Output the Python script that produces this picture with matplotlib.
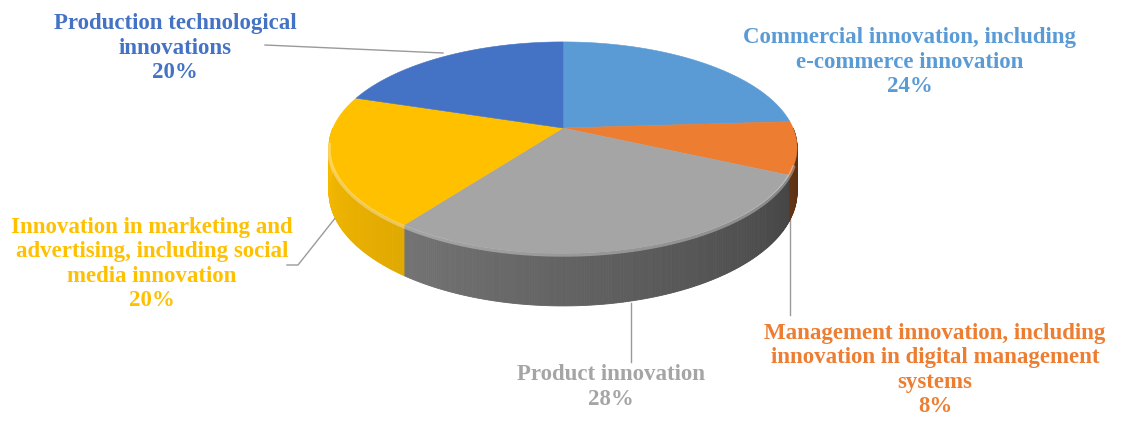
import matplotlib
matplotlib.use('Agg')
import matplotlib.pyplot as plt
from matplotlib.patches import Polygon
import numpy as np

# slice data, clockwise from 12 o'clock
categories = ['Commercial innovation, including\ne-commerce innovation',
              'Management innovation, including\ninnovation in digital management\nsystems',
              'Product innovation',
              'Innovation in marketing and\nadvertising, including social\nmedia innovation',
              'Production technological\ninnovations']
shares = [24, 8, 28, 20, 20]
top_colors = ['#5B9BD5', '#ED7D31', '#A5A5A5', '#FFC000', '#4472C4']

# pie geometry in pixels (tilted disc with a bit of perspective)
CX, CY = 563, 128
A, H = 230, 102
K = 0.185
T = 43

# label anchors and leader lines
label_pos = [(910, 62), (935, 370), (611, 387), (152, 264), (175, 48)]
leaders = [None,
           [(790, 212), (790, 315)],
           [(631, 303), (631, 362)],
           [(287, 265), (298, 265), (340, 212)],
           [(265, 45), (443, 53)]]


def project(theta, drop=0.0):
    t = np.radians(theta)
    u, v = np.sin(t), np.cos(t)
    s = 1.0 / (1.0 + K * v)
    return CX + A * u * s, CY - H * v * s + drop * s


def shade(hex_color, f):
    c = np.array(matplotlib.colors.to_rgb(hex_color))
    if f < 1:
        return tuple(c * f)
    return tuple(c + (1 - c) * (f - 1))


fig = plt.figure(figsize=(11.22, 4.24), dpi=100)
ax = fig.add_axes([0, 0, 1, 1])
ax.set_xlim(0, 1122)
ax.set_ylim(424, 0)
ax.axis('off')

bounds = np.concatenate([[0], np.cumsum(shares)]) * 3.6

# side walls, built from thin strips so they can be shaded
for i in range(len(shares)):
    a0, a1 = max(bounds[i], 90), min(bounds[i + 1], 270)
    if a1 <= a0:
        continue
    steps = np.linspace(a0, a1, max(int((a1 - a0) * 2), 2))
    for s0, s1 in zip(steps[:-1], steps[1:]):
        mid = (s0 + s1) / 2
        # lighter toward the left, darker toward the right
        f = 0.35 + 0.5 * (mid - 90) / 180
        if top_colors[i] == '#FFC000':
            f = 0.88 + 0.1 * (mid - 216) / 54
        pts = [project(s0), project(s1), project(s1, T), project(s0, T)]
        col = shade(top_colors[i], f)
        ax.add_patch(Polygon(pts, closed=True, facecolor=col, edgecolor=col,
                             linewidth=0.6, zorder=2))

# top face
for i in range(len(shares)):
    arc = np.linspace(bounds[i], bounds[i + 1], 120)
    pts = [(CX, CY)] + [project(a) for a in arc]
    ax.add_patch(Polygon(pts, closed=True, facecolor=top_colors[i],
                         edgecolor=top_colors[i], linewidth=0.4, zorder=3))

# soft highlight along the front rim
rim = np.linspace(110, 262, 200)
rx, ry = zip(*[project(a, 1.5) for a in rim])
ax.plot(rx, ry, color='white', alpha=0.35, linewidth=2.5, zorder=4,
        solid_capstyle='round')

for i in range(len(shares)):
    text = f'{categories[i]}\n{shares[i]}%'
    ax.text(label_pos[i][0], label_pos[i][1], text, ha='center', va='center',
            multialignment='center', fontsize=16.5, fontweight='bold',
            family='Liberation Serif', color=top_colors[i], linespacing=1.22,
            zorder=5)
    if leaders[i]:
        lx, ly = zip(*leaders[i])
        ax.plot(lx, ly, color='#9a9a9a', linewidth=1, zorder=1)

fig.savefig('out.png', dpi=100)
